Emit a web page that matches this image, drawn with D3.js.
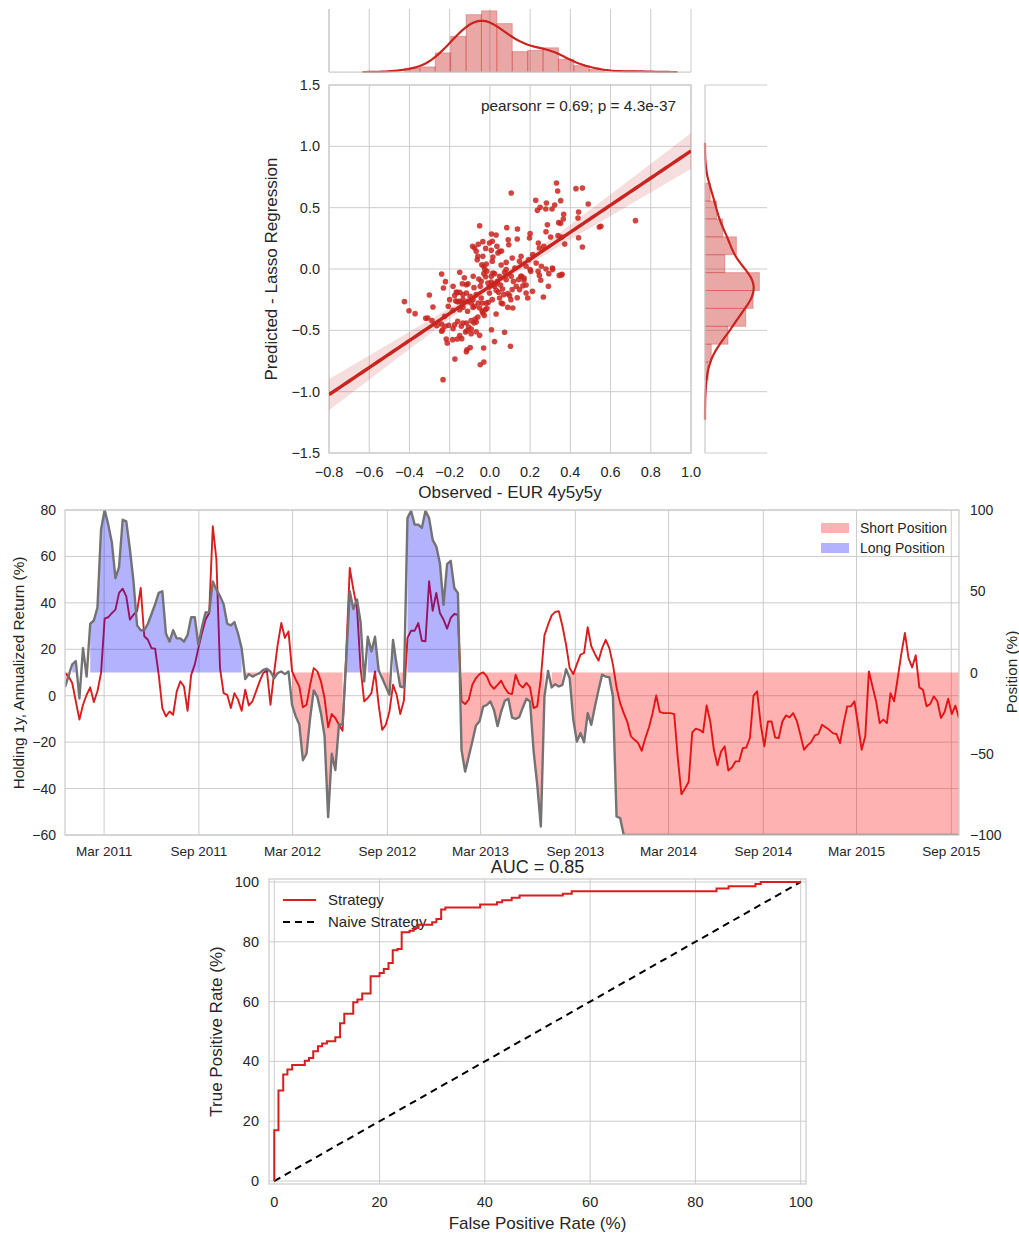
<!DOCTYPE html>
<html>
<head>
<meta charset="utf-8">
<script src="https://cdn.jsdelivr.net/npm/d3@7"></script>
<style>
  body { margin: 0; background: #fff; }
  text { font-family: "Liberation Sans", Arial, sans-serif; fill: #262626; }
</style>
</head>
<body>
<svg id="fig" width="1019" height="1234"></svg>
<script>
// ---------- Joint plot: observed vs predicted ----------
const obsX = [0.106,0.331,0.337,0.428,0.460,0.228,0.250,0.236,0.281,0.278,0.309,0.322,0.352,0.489,0.367,0.365,0.441,0.438,0.342,0.352,
  0.724,0.552,0.544,0.286,0.279,0.302,0.339,0.357,0.372,0.441,0.460,-0.051,0.008,0.031,0.084,0.137,0.136,0.091,0.094,0.200,
  0.197,0.241,0.268,0.246,0.213,-0.086,-0.076,-0.068,-0.058,-0.035,-0.021,-0.002,0.012,0.007,0.015,0.040,0.048,0.058,0.035,0.056,
  -0.035,-0.060,-0.063,-0.040,-0.031,-0.018,-0.025,0.007,0.015,0.023,0.038,0.048,0.073,0.081,0.111,0.124,0.147,0.157,0.170,0.180,
  0.169,0.200,0.203,0.240,0.246,0.253,0.279,0.293,0.311,0.291,0.312,0.345,0.355,0.359,-0.240,-0.221,-0.231,-0.150,-0.127,-0.117,
  -0.109,-0.083,-0.079,-0.055,-0.048,-0.030,-0.021,-0.010,-0.003,0.007,0.015,0.023,0.031,0.043,0.053,0.063,0.068,0.089,0.098,0.111,
  0.117,0.142,0.154,0.164,0.180,0.188,0.212,0.266,0.136,0.104,0.089,0.114,0.056,0.064,0.048,0.012,-0.008,-0.018,-0.038,-0.058,
  -0.084,-0.098,-0.117,-0.134,-0.150,-0.167,-0.175,-0.162,-0.154,-0.170,-0.134,-0.137,-0.200,-0.207,-0.183,-0.150,-0.134,-0.111,-0.084,-0.076,
  -0.051,-0.038,-0.023,-0.015,-0.035,-0.028,-0.060,-0.073,-0.079,-0.068,-0.093,-0.117,-0.106,-0.134,-0.160,-0.142,-0.175,-0.183,-0.205,-0.223,
  -0.235,-0.241,-0.225,-0.283,-0.301,-0.425,-0.402,-0.372,-0.319,-0.309,-0.288,-0.264,-0.240,-0.217,-0.212,-0.185,-0.162,-0.140,-0.150,-0.121,
  -0.114,-0.093,-0.093,-0.114,-0.117,-0.098,-0.068,-0.051,0.008,-0.031,0.023,0.073,0.102,0.031,-0.048,-0.030,-0.174,-0.233,-0.093,-0.109,
  -0.068,-0.043,-0.002,0.028,0.081,0.131,0.147,0.230,0.256,0.180,0.106,-0.015,-0.043,-0.137,-0.183,-0.162,0.081,0.012,0.155,0.193];
const predY = [0.620,0.701,0.636,0.655,0.660,0.560,0.503,0.478,0.538,0.489,0.489,0.522,0.557,0.530,0.446,0.408,0.465,0.416,0.378,0.372,
  0.394,0.348,0.342,0.361,0.304,0.261,0.272,0.261,0.204,0.255,0.179,0.353,0.285,0.277,0.337,0.326,0.245,0.239,0.198,0.288,
  0.253,0.212,0.185,0.171,0.117,0.185,0.171,0.144,0.201,0.223,0.168,0.212,0.226,0.152,0.098,0.130,0.144,0.147,0.185,0.033,
  0.103,0.103,0.076,0.035,0.022,0.041,-0.005,-0.060,-0.033,-0.038,-0.101,-0.060,-0.027,-0.005,0.090,0.008,0.063,-0.060,-0.073,-0.130,
  -0.092,-0.005,-0.019,-0.019,-0.052,-0.092,0.000,-0.038,0.008,-0.141,-0.005,-0.052,-0.049,-0.043,-0.041,-0.103,-0.155,-0.027,-0.071,-0.128,
  -0.120,-0.060,-0.152,-0.082,-0.141,-0.038,-0.063,-0.114,-0.147,-0.106,-0.128,-0.141,-0.174,-0.190,-0.130,-0.163,-0.209,-0.201,-0.217,-0.168,
  -0.101,-0.087,-0.060,-0.136,-0.196,-0.236,-0.182,-0.228,-0.234,-0.250,-0.313,-0.318,-0.277,-0.283,-0.236,-0.250,-0.272,-0.280,-0.277,-0.277,
  -0.250,-0.223,-0.196,-0.209,-0.190,-0.188,-0.217,-0.266,-0.264,-0.261,-0.250,-0.277,-0.250,-0.304,-0.337,-0.332,-0.313,-0.345,-0.313,-0.304,
  -0.318,-0.345,-0.332,-0.323,-0.359,-0.380,-0.391,-0.408,-0.440,-0.432,-0.421,-0.440,-0.473,-0.440,-0.427,-0.467,-0.454,-0.486,-0.459,-0.467,
  -0.495,-0.448,-0.386,-0.310,-0.212,-0.266,-0.340,-0.364,-0.402,-0.399,-0.421,-0.462,-0.508,-0.571,-0.603,-0.576,-0.571,-0.568,-0.543,-0.514,
  -0.503,-0.489,-0.527,-0.658,-0.674,-0.641,-0.511,-0.541,-0.495,-0.644,-0.592,-0.516,-0.630,-0.367,-0.780,-0.758,-0.734,-0.902,-0.277,-0.264,
  -0.209,-0.236,-0.196,-0.120,-0.087,-0.141,-0.168,0.049,0.022,0.022,-0.060,-0.019,-0.101,-0.120,-0.141,-0.193,0.054,0.063,0.103,0.076];
const obsTicks = [-0.8,-0.6,-0.4,-0.2,0.0,0.2,0.4,0.6,0.8,1.0];
const predTicks = [-1.5,-1.0,-0.5,0.0,0.5,1.0,1.5];
// marginal histograms (counts per bin)
const obsBinLo = -0.425, obsBinHi = 0.724;
const obsCounts = [3,4,15,28,45,48,38,16,17,19,10,5,2,0,1];
const predBinLo = -0.905, predBinHi = 0.700;
const predCounts = [3,6,22,39,46,52,19,30,17,11,5];
const statText = "pearsonr = 0.69; p = 4.3e-37";

// ---------- Backtest: return and position ----------
const startDate = Date.UTC(2010, 11, 15);   // first weekly observation
const weeklyReturn = [
  9.8,8.3,5.5,-2.4,-10.3,-3.9,0.4,3.6,-2.7,1.9,
  9.8,33.2,33.8,35.6,37.1,44.3,46.1,42.8,32.8,34.9,
  36.4,46.4,25.6,24.1,20.5,20.3,9,-5.3,-8.9,-6.8,
  -8.2,1.9,6.2,4,-6.5,9,13.4,20.5,27,32.8,
  35.6,73,58.6,11.9,1.1,0.4,-5.3,1.1,-1.7,-6.5,
  2.6,-4.2,-2.4,1.9,6.2,9.8,10.8,-3.9,9.8,22,
  31.3,24.9,27.7,10.5,7,4,-5,-3.9,4.7,11.9,
  10.5,6.2,-1,-13.6,-7.9,-9.6,-12.5,-15.1,18,55,
  45.7,37.8,11.9,-2.4,-1,1.1,10.5,-3.9,-14.7,-12.5,
  -6.8,4.7,0.4,-7.9,-2.2,24.9,28,28,31.3,23.7,
  23.4,49.3,36.6,44.3,35.6,32.8,28.9,33.5,35.2,34.9,
  -2.4,-3.6,-1.7,4.7,7.6,9.3,10.1,8.3,4.7,3,
  4.7,6.5,3.3,1.1,0.7,9,5,3.5,5.5,3.6,
  -5.3,-4.6,7.6,26,30.6,34.6,36.1,36.4,29.9,22,
  11.9,9.3,13.6,17.7,18.4,29.5,21.3,18,15.1,20.5,
  24.1,20.5,13.4,3.6,-3.2,-7.5,-11.4,-17.5,-19,-20.4,
  -23.7,-18.2,-13.6,-7.5,0.1,-7,-7.5,-7.5,-7.5,-7.9,
  -26.9,-42.4,-40,-37.2,-15.8,-14.2,-14.7,-15.8,-4.2,-11.1,
  -23.3,-30,-24,-21.8,-32.2,-30.9,-28.3,-28.3,-22.6,-22.3,
  -18.2,0,1.9,-12.5,-21.8,-11.1,-11.1,-18,-18.2,-11.1,
  -8.5,-9.3,-7.5,-10.8,-16.8,-23.3,-21.4,-20,-17.1,-16.5,
  -12.5,-13.6,-14.7,-16.1,-16.5,-20.4,-11.8,-4.6,-4.6,-2.4,
  -12.5,-23.3,-17.5,10.5,4,-2.4,-11.8,-10.3,-11.8,1.1,
  -2.4,7.6,18,27,16.2,12.2,17.4,3.6,2.6,-4.6,
  -3.6,-0.3,-2.4,-9.6,-7,-1.3,-7.9,-4.3,-9.6];
const weeklyPosition = [
  -9,-2,5,7,-16,15,-2.5,30,32,40,
  88,100,91,80,58,65,94,93,76,56,
  29,26,26,30,36,42,49,50,24,19,
  26,21,21,19,23,34,34,17,28,37,
  37,56,51,47,42,30,29,31,24,15,
  -4,-1,-2.5,-1.4,-0.4,1.6,2.3,0.6,-3.5,-0.4,
  0.6,-1,0.6,-20,-27,-32,-54,-50,-28,-11,
  -15,-25,-39,-89,-50,-60,-32,-32,7,50,
  39,45,31,-5.5,22,13,22,1.6,-3.5,-8.6,
  -13.7,20,4.7,-8.6,-9.2,95,99.5,91,91,89,
  99.5,95,81.6,77.5,67.3,41.6,66.7,68.7,52,48.8,
  -47.6,-61,-51.7,-42.5,-32.6,-30,-21,-20,-17.8,-23,
  -33,-24,-17.4,-16.2,-27.7,-28.5,-27.5,-21.5,-16.2,-17.8,
  -48.6,-69,-94.8,-14.8,1,-9.2,-7.2,-8.6,-7.6,2,
  -3.5,-29,-42.5,-37.3,-42.9,-25,-32.2,-21,-10.7,-1.4,
  -2.5,-2.9,-14.8,-88.6,-89.6,-100,-100,-100,-100,-100,
  -100,-100,-100,-100,-100,-100,-100,-100,-100,-100,
  -100,-100,-100,-100,-100,-100,-100,-100,-100,-100,
  -100,-100,-100,-100,-100,-100,-100,-100,-100,-100,
  -100,-100,-100,-100,-100,-100,-100,-100,-100,-100,
  -100,-100,-100,-100,-100,-100,-100,-100,-100,-100,
  -100,-100,-100,-100,-100,-100,-100,-100,-100,-100,
  -100,-100,-100,-100,-100,-100,-100,-100,-100,-100,
  -100,-100,-100,-100,-100,-100,-100,-100,-100,-100,
  -100,-100,-100,-100,-100,-100,-100,-100,-100];
const dateTicks = ["2011-03-01","2011-09-01","2012-03-01","2012-09-01","2013-03-01",
  "2013-09-01","2014-03-01","2014-09-01","2015-03-01","2015-09-01"];
const returnTicks = [-60,-40,-20,0,20,40,60,80];
const positionTicks = [-100,-50,0,50,100];
const seriesNames = ["Short Position","Long Position"];

// ---------- ROC curve ----------
const rocFpr = [0,0.8,1.7,2.5,3.4,5.8,6.6,7.4,8.3,9.1,10,11.6,12.5,13.3,15,15.8,16.7,18.3,20,20.8,21.7,22.5,
  23.4,24.2,25.7,26.5,27.4,30,30.8,31.7,32.5,39.1,42.3,43.3,45.1,46.6,54.8,56.5,84,86.3,91.4,92.4,100];
const rocTpr = [0,17,30.3,35.6,37.3,38.8,40.2,41.1,43.4,45.1,46,46.7,48.1,52.8,55.9,59.8,60.7,62.7,68.5,69.6,70.9,72.9,
  77.2,77.6,83.2,83.7,84.6,85.7,86.5,87.6,90.8,91.5,92.5,93.2,93.9,94.7,95.5,96.1,96.9,97.8,98.6,99.3,100];
const rateTicks = [0,20,40,60,80,100];
const aucText = "AUC = 0.85";
const rocNames = ["Strategy","Naive Strategy"];

// ================= drawing =================
const svg = d3.select("#fig");
const GRID = "#cccccc";
const RED = "#c9241f";
const fmt1 = d3.format(".1f");

function vGrid(g, scale, vals, y0, y1) {
  g.selectAll(null).data(vals).join("line")
    .attr("x1", d => scale(d)).attr("x2", d => scale(d))
    .attr("y1", y0).attr("y2", y1)
    .attr("stroke", GRID).attr("stroke-width", 1);
}
function hGrid(g, scale, vals, x0, x1) {
  g.selectAll(null).data(vals).join("line")
    .attr("y1", d => scale(d)).attr("y2", d => scale(d))
    .attr("x1", x0).attr("x2", x1)
    .attr("stroke", GRID).attr("stroke-width", 1);
}
function kde(values, n) {
  const s = values.slice().sort(d3.ascending);
  const N = s.length;
  const sd = d3.deviation(s);
  const iqr = d3.quantile(s, 0.75) - d3.quantile(s, 0.25);
  const bw = 1.059 * Math.min(sd, iqr / 1.349) * Math.pow(N, -0.2);
  const lo = s[0] - 3 * bw, hi = s[N - 1] + 3 * bw;
  const k = 1 / (N * bw * Math.sqrt(2 * Math.PI));
  return d3.range(n).map(i => {
    const g = lo + i * (hi - lo) / (n - 1);
    return [g, k * d3.sum(s, v => Math.exp(-0.5 * ((g - v) / bw) ** 2))];
  });
}
function binsFrom(lo, hi, counts) {
  const w = (hi - lo) / counts.length;
  const tot = d3.sum(counts);
  return counts.map((c, i) => ({x0: lo + i * w, x1: lo + (i + 1) * w, d: c / (tot * w)}));
}

// ---------- joint plot ----------
{
  const L = 329, R = 691, T = 85, B = 453;
  const x = d3.scaleLinear().domain([-0.8, 1.0]).range([L, R]);
  const y = d3.scaleLinear().domain([-1.5, 1.5]).range([B, T]);
  const g = svg.append("g");
  vGrid(g, x, obsTicks, T, B);
  hGrid(g, y, predTicks, L, R);
  g.append("rect").attr("x", L).attr("y", T).attr("width", R - L).attr("height", B - T)
    .attr("fill", "none").attr("stroke", GRID).attr("stroke-width", 1.25);

  g.append("clipPath").attr("id", "clipJ").append("rect")
    .attr("x", L).attr("y", T).attr("width", R - L).attr("height", B - T);
  const inner = g.append("g").attr("clip-path", "url(#clipJ)");

  // least squares fit with 95% confidence band
  const n = obsX.length;
  const mx = d3.mean(obsX), my = d3.mean(predY);
  const sxx = d3.sum(obsX, v => (v - mx) ** 2);
  const sxy = d3.sum(obsX, (v, i) => (v - mx) * (predY[i] - my));
  const slope = sxy / sxx, icpt = my - slope * mx;
  const sres = Math.sqrt(d3.sum(obsX, (v, i) => (predY[i] - icpt - slope * v) ** 2) / (n - 2));
  const fitX = d3.range(101).map(i => -0.8 + i * 1.8 / 100);
  const fit = fitX.map(v => {
    const yh = icpt + slope * v;
    const se = 1.97 * sres * Math.sqrt(1 / n + (v - mx) ** 2 / sxx);
    return {x: v, y: yh, lo: yh - se, hi: yh + se};
  });
  inner.append("path").datum(fit)
    .attr("d", d3.area().x(d => x(d.x)).y0(d => y(d.lo)).y1(d => y(d.hi)))
    .attr("fill", RED).attr("fill-opacity", 0.15);
  inner.selectAll("circle").data(obsX).join("circle")
    .attr("cx", d => x(d)).attr("cy", (d, i) => y(predY[i])).attr("r", 2.8)
    .attr("fill", RED).attr("fill-opacity", 0.85);
  inner.append("path").datum(fit)
    .attr("d", d3.line().x(d => x(d.x)).y(d => y(d.y)))
    .attr("fill", "none").attr("stroke", RED).attr("stroke-width", 3.5);

  g.selectAll(".xt").data(obsTicks).join("text")
    .attr("x", d => x(d)).attr("y", B + 24).attr("text-anchor", "middle")
    .attr("font-size", 14.5).text(d => fmt1(d));
  g.selectAll(".yt").data(predTicks).join("text")
    .attr("x", L - 9).attr("y", d => y(d) + 5).attr("text-anchor", "end")
    .attr("font-size", 14.5).text(d => fmt1(d));
  g.append("text").attr("x", (L + R) / 2).attr("y", 498).attr("text-anchor", "middle")
    .attr("font-size", 17).text("Observed - EUR 4y5y5y");
  g.append("text").attr("transform", `translate(277,${(T + B) / 2}) rotate(-90)`)
    .attr("text-anchor", "middle").attr("font-size", 17).text("Predicted - Lasso Regression");
  g.append("text").attr("x", 676).attr("y", 111).attr("text-anchor", "end")
    .attr("font-size", 15.4).text(statText);

  // top marginal: observed distribution
  const tb = binsFrom(obsBinLo, obsBinHi, obsCounts);
  const tk = kde(obsX, 100);
  const yTop = d3.scaleLinear().domain([0, d3.max(tb, d => d.d) * 1.03]).range([72, 9]);
  const gt = svg.append("g");
  vGrid(gt, x, obsTicks, 9, 72);
  gt.selectAll("rect").data(tb).join("rect")
    .attr("x", d => x(d.x0)).attr("width", d => x(d.x1) - x(d.x0))
    .attr("y", d => yTop(d.d)).attr("height", d => yTop(0) - yTop(d.d))
    .attr("fill", RED).attr("fill-opacity", 0.4)
    .attr("stroke", RED).attr("stroke-opacity", 0.3).attr("stroke-width", 1);
  gt.append("path").datum(tk)
    .attr("d", d3.line().x(d => x(d[0])).y(d => yTop(d[1])))
    .attr("fill", "none").attr("stroke", RED).attr("stroke-width", 2.2);
  gt.append("line").attr("x1", L).attr("x2", L).attr("y1", 9).attr("y2", 72)
    .attr("stroke", GRID).attr("stroke-width", 1.25);
  gt.append("line").attr("x1", L).attr("x2", R).attr("y1", 72).attr("y2", 72)
    .attr("stroke", GRID).attr("stroke-width", 1.25);

  // right marginal: predicted distribution
  const rb = binsFrom(predBinLo, predBinHi, predCounts);
  const rk = kde(predY, 100);
  const xRight = d3.scaleLinear().domain([0, d3.max(rb, d => d.d) * 1.14]).range([705, 767]);
  const gr = svg.append("g");
  hGrid(gr, y, predTicks, 705, 767);
  gr.selectAll("rect").data(rb).join("rect")
    .attr("y", d => y(d.x1)).attr("height", d => y(d.x0) - y(d.x1))
    .attr("x", xRight(0)).attr("width", d => xRight(d.d) - xRight(0))
    .attr("fill", RED).attr("fill-opacity", 0.4)
    .attr("stroke", RED).attr("stroke-opacity", 0.3).attr("stroke-width", 1);
  gr.append("path").datum(rk)
    .attr("d", d3.line().x(d => xRight(d[1])).y(d => y(d[0])))
    .attr("fill", "none").attr("stroke", RED).attr("stroke-width", 2.2);
  gr.append("line").attr("x1", 705).attr("x2", 705).attr("y1", T).attr("y2", B)
    .attr("stroke", GRID).attr("stroke-width", 1.25);
}

// ---------- backtest chart ----------
{
  const L = 65, R = 959, T = 510, B = 835;
  const rows = weeklyReturn.map((r, i) => ({
    date: new Date(startDate + i * 7 * 864e5), r: r, p: weeklyPosition[i]
  }));
  const x = d3.scaleUtc().domain(d3.extent(rows, d => d.date)).range([L, R]);
  const yL = d3.scaleLinear().domain([-60, 80]).range([B, T]);
  const yR = d3.scaleLinear().domain([-100, 100]).range([B, T]);
  const tickDates = dateTicks.map(s => new Date(s + "T00:00:00Z"));
  const g = svg.append("g");
  vGrid(g, x, tickDates, T, B);
  hGrid(g, yL, returnTicks, L, R);

  g.append("clipPath").attr("id", "clipM").append("rect")
    .attr("x", L).attr("y", T).attr("width", R - L).attr("height", B - T);
  const inner = g.append("g").attr("clip-path", "url(#clipM)");

  inner.append("path").datum(rows)
    .attr("d", d3.line().x(d => x(d.date)).y(d => yL(d.r)))
    .attr("fill", "none").attr("stroke", "#d81e1e").attr("stroke-width", 1.9)
    .attr("stroke-linejoin", "round");
  inner.append("path").datum(rows)
    .attr("d", d3.area().defined(d => d.p < 0).x(d => x(d.date)).y0(yR(0)).y1(d => yR(d.p)))
    .attr("fill", "red").attr("fill-opacity", 0.3);
  inner.append("path").datum(rows)
    .attr("d", d3.area().defined(d => d.p > 0).x(d => x(d.date)).y0(yR(0)).y1(d => yR(d.p)))
    .attr("fill", "blue").attr("fill-opacity", 0.3);
  inner.append("path").datum(rows)
    .attr("d", d3.line().x(d => x(d.date)).y(d => yR(d.p)))
    .attr("fill", "none").attr("stroke", "#737373").attr("stroke-width", 2.4)
    .attr("stroke-linejoin", "round");

  g.append("rect").attr("x", L).attr("y", T).attr("width", R - L).attr("height", B - T)
    .attr("fill", "none").attr("stroke", GRID).attr("stroke-width", 1.25);

  const tf = d3.utcFormat("%b %Y");
  g.selectAll(".dt").data(tickDates).join("text")
    .attr("x", d => x(d)).attr("y", B + 21).attr("text-anchor", "middle")
    .attr("font-size", 13.5).text(d => tf(d));
  g.selectAll(".lt").data(returnTicks).join("text")
    .attr("x", L - 9).attr("y", d => yL(d) + 5).attr("text-anchor", "end")
    .attr("font-size", 14).text(d => d3.format("d")(d));
  g.selectAll(".rt").data(positionTicks).join("text")
    .attr("x", R + 11).attr("y", d => yR(d) + 5).attr("text-anchor", "start")
    .attr("font-size", 14).text(d => d3.format("d")(d));
  g.append("text").attr("transform", `translate(24,673) rotate(-90)`)
    .attr("text-anchor", "middle").attr("font-size", 15.3).text("Holding 1y, Annualized Return (%)");
  g.append("text").attr("transform", `translate(1017,672) rotate(-90)`)
    .attr("text-anchor", "middle").attr("font-size", 15.3).text("Position (%)");

  const lg = g.append("g");
  const colors = ["red", "blue"];
  seriesNames.forEach((name, i) => {
    lg.append("rect").attr("x", 821).attr("y", 523 + i * 20).attr("width", 28).attr("height", 10)
      .attr("fill", colors[i]).attr("fill-opacity", 0.3);
    lg.append("text").attr("x", 860).attr("y", 533 + i * 20).attr("font-size", 14).text(name);
  });
}

// ---------- ROC chart ----------
{
  const L = 269, R = 806, T = 879, B = 1184;
  const x = d3.scaleLinear().domain([-1, 101]).range([L, R]);
  const y = d3.scaleLinear().domain([-1, 101]).range([B, T]);
  const g = svg.append("g");
  vGrid(g, x, rateTicks, T, B);
  hGrid(g, y, rateTicks, L, R);
  g.append("rect").attr("x", L).attr("y", T).attr("width", R - L).attr("height", B - T)
    .attr("fill", "none").attr("stroke", GRID).attr("stroke-width", 1.25);

  // legend
  g.append("line").attr("x1", 283).attr("x2", 316).attr("y1", 900).attr("y2", 900)
    .attr("stroke", "#d81e1e").attr("stroke-width", 2);
  g.append("line").attr("x1", 283).attr("x2", 316).attr("y1", 922).attr("y2", 922)
    .attr("stroke", "#000").attr("stroke-width", 2).attr("stroke-dasharray", "7,5");
  rocNames.forEach((name, i) => {
    g.append("text").attr("x", 328).attr("y", 905 + i * 22).attr("font-size", 15).text(name);
  });

  const pts = rocFpr.map((f, i) => [f, rocTpr[i]]);
  g.append("path").datum([[0, 0], [100, 100]])
    .attr("d", d3.line().x(d => x(d[0])).y(d => y(d[1])))
    .attr("fill", "none").attr("stroke", "#000").attr("stroke-width", 2)
    .attr("stroke-dasharray", "7,5");
  g.append("path").datum(pts)
    .attr("d", d3.line().curve(d3.curveStepBefore).x(d => x(d[0])).y(d => y(d[1])))
    .attr("fill", "none").attr("stroke", "#d81e1e").attr("stroke-width", 2);

  g.selectAll(".xt").data(rateTicks).join("text")
    .attr("x", d => x(d)).attr("y", B + 23).attr("text-anchor", "middle")
    .attr("font-size", 14.5).text(d => d);
  g.selectAll(".yt").data(rateTicks).join("text")
    .attr("x", L - 10).attr("y", d => y(d) + 5).attr("text-anchor", "end")
    .attr("font-size", 14.5).text(d => d);
  g.append("text").attr("x", (L + R) / 2).attr("y", 873).attr("text-anchor", "middle")
    .attr("font-size", 18).text(aucText);
  g.append("text").attr("x", (L + R) / 2).attr("y", 1229).attr("text-anchor", "middle")
    .attr("font-size", 17).text("False Positive Rate (%)");
  g.append("text").attr("transform", `translate(222,${(T + B) / 2}) rotate(-90)`)
    .attr("text-anchor", "middle").attr("font-size", 17).text("True Positive Rate (%)");
}
</script>
</body>
</html>
